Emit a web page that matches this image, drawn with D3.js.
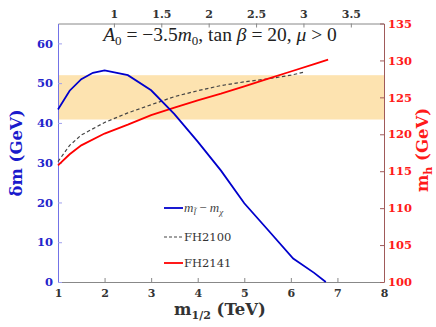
<!DOCTYPE html>
<html>
<head>
<meta charset="utf-8">
<script src="https://cdn.jsdelivr.net/npm/d3@7"></script>
<style>
  body { margin: 0; background: #fff; }
  svg { display: block; }
</style>
</head>
<body>
<div id="chart"></div>
<script>
const width = 436;
const height = 327;
const margin = { top: 23.5, bottom: 45, left: 58, right: 52 };

// datos
const xTicks = [1, 2, 3, 4, 5, 6, 7, 8];
const leftTicks = [0, 10, 20, 30, 40, 50, 60];
const rightTicks = [100, 105, 110, 115, 120, 125, 130, 135];
const topTicks = [1, 1.5, 2, 2.5, 3, 3.5];

const dmX = [1, 1.25, 1.5, 1.75, 2, 2.5, 3, 3.5, 4, 4.5, 5, 5.5, 6.05, 6.5, 6.75];
const dmY = [43.4, 48.1, 51.0, 52.6, 53.2, 52.0, 48.2, 42.2, 35.3, 28.0, 19.8, 13.2, 5.9, 2.3, 0];

const fh2100X = [1, 1.25, 1.5, 2, 2.5, 3, 3.5, 4, 4.5, 5, 5.5, 6, 6.27];
const fh2100Y = [116.3, 118.5, 119.9, 121.6, 122.9, 124.0, 125.1, 125.9, 126.6, 127.1, 127.5, 128.0, 128.4];

const fh2141X = [1, 1.25, 1.5, 2, 2.5, 3, 3.5, 4, 4.5, 5, 5.5, 6, 6.5, 6.8];
const fh2141Y = [115.8, 117.3, 118.5, 120.1, 121.3, 122.6, 123.6, 124.6, 125.5, 126.5, 127.5, 128.5, 129.5, 130.1];

const bandLow = 122;
const bandHigh = 128;

const svg = d3.select("div#chart").append("svg")
  .attr("width", width).attr("height", height);

const x = d3.scaleLinear().domain([1, 8]).range([margin.left, width - margin.right]);
const xTop = d3.scaleLinear().domain([0.41, 3.85]).range([margin.left, width - margin.right]);
const yL = d3.scaleLinear().domain([0, 65]).range([height - margin.bottom, margin.top]);
const yR = d3.scaleLinear().domain([100, 135]).range([height - margin.bottom, margin.top]);

// banda
svg.append("rect")
  .attr("x", margin.left)
  .attr("y", yR(bandHigh))
  .attr("width", x(8) - x(1))
  .attr("height", yR(bandLow) - yR(bandHigh))
  .attr("fill", "#fde3b0");

// ejes
const tickFont = "'DejaVu Serif', serif";

const xAxis = svg.append("g")
  .attr("transform", `translate(0, ${height - margin.bottom})`)
  .call(d3.axisBottom(x).tickValues(xTicks).tickSizeInner(-4).tickSizeOuter(0).tickPadding(7).tickFormat(d3.format("d")));
xAxis.select(".domain").attr("stroke", "#888");
xAxis.selectAll(".tick line").attr("stroke", "#888");
xAxis.selectAll("text").attr("fill", "#333").style("font", `bold 11px ${tickFont}`);

const topAxis = svg.append("g")
  .attr("transform", `translate(0, ${margin.top})`)
  .call(d3.axisTop(xTop).tickValues(topTicks).tickSizeInner(-4).tickSizeOuter(0).tickPadding(6).tickFormat(d3.format("")));
topAxis.select(".domain").attr("stroke", "#888");
topAxis.selectAll(".tick line").attr("stroke", "#888");
topAxis.selectAll("text").attr("fill", "#333").style("font", `bold 11px ${tickFont}`);

const leftAxis = svg.append("g")
  .attr("transform", `translate(${margin.left}, 0)`)
  .call(d3.axisLeft(yL).tickValues(leftTicks).tickSizeInner(-4).tickSizeOuter(0).tickPadding(5));
leftAxis.select(".domain").attr("stroke", "#7373e6");
leftAxis.selectAll(".tick line").attr("stroke", "#a0a0ee");
leftAxis.selectAll("text").attr("fill", "#2424cc").style("font", `bold 11.5px ${tickFont}`);

const rightAxis = svg.append("g")
  .attr("transform", `translate(${width - margin.right}, 0)`)
  .call(d3.axisRight(yR).tickValues(rightTicks).tickSizeInner(-4).tickSizeOuter(0).tickPadding(4));
rightAxis.select(".domain").attr("stroke", "#a05a5a");
rightAxis.selectAll(".tick line").attr("stroke", "#a05a5a");
rightAxis.selectAll("text").attr("fill", "#ff1a1a").style("font", `bold 11.5px ${tickFont}`);

// curvas
const lineL = d3.line().x((d) => x(d[0])).y((d) => yL(d[1]));
const lineR = d3.line().x((d) => x(d[0])).y((d) => yR(d[1]));

svg.append("path")
  .datum(fh2100X.map((v, i) => [v, fh2100Y[i]]))
  .attr("d", lineR).attr("fill", "none")
  .attr("stroke", "#444").attr("stroke-width", 1.2).attr("stroke-dasharray", "3.5,2.5");

svg.append("path")
  .datum(fh2141X.map((v, i) => [v, fh2141Y[i]]))
  .attr("d", lineR).attr("fill", "none")
  .attr("stroke", "#ff0000").attr("stroke-width", 1.8);

svg.append("path")
  .datum(dmX.map((v, i) => [v, dmY[i]]))
  .attr("d", lineL).attr("fill", "none")
  .attr("stroke", "#0000cc").attr("stroke-width", 1.8);

// titulo
const serif = "'Liberation Serif', 'DejaVu Serif', serif";
const title = svg.append("text")
  .attr("x", 220).attr("y", 41)
  .attr("text-anchor", "middle")
  .style("font-family", serif).style("font-size", "19.5px").attr("fill", "#222");
title.append("tspan").style("font-style", "italic").text("A");
title.append("tspan").attr("dy", 4).style("font-size", "13px").text("0");
title.append("tspan").attr("dy", -4).text(" = −3.5");
title.append("tspan").style("font-style", "italic").text("m");
title.append("tspan").attr("dy", 4).style("font-size", "13px").text("0");
title.append("tspan").attr("dy", -4).text(", tan ");
title.append("tspan").style("font-style", "italic").text("β");
title.append("tspan").text(" = 20, ");
title.append("tspan").style("font-style", "italic").text("μ");
title.append("tspan").text(" > 0");

// etiquetas de ejes
const xl = svg.append("text")
  .attr("x", 220).attr("y", 315)
  .attr("text-anchor", "middle")
  .style("font-family", tickFont).style("font-weight", "bold").style("font-size", "16.5px")
  .attr("fill", "#333");
xl.append("tspan").text("m");
xl.append("tspan").attr("dy", 4).style("font-size", "11px").text("1/2");
xl.append("tspan").attr("dy", -4).text(" (TeV)");

const yl = svg.append("text")
  .attr("transform", "translate(22, 153) rotate(-90)")
  .attr("text-anchor", "middle")
  .style("font-family", tickFont).style("font-weight", "bold").style("font-size", "16.5px")
  .attr("fill", "#1a1acc");
yl.append("tspan").text("δm (GeV)");

const yr = svg.append("text")
  .attr("transform", "translate(428, 150) rotate(-90)")
  .attr("text-anchor", "middle")
  .style("font-family", tickFont).style("font-weight", "bold").style("font-size", "16.5px")
  .attr("fill", "#ff1a1a");
yr.append("tspan").text("m");
yr.append("tspan").attr("dy", 4).style("font-size", "11px").text("h");
yr.append("tspan").attr("dy", -4).text(" (GeV)");

// leyenda
const legend = svg.append("g").attr("transform", "translate(164, 0)");
const legendItems = [
  { y: 208, color: "#0000cc", dash: null, w: 1.8 },
  { y: 237, color: "#444", dash: "3,2", w: 1.2 },
  { y: 263, color: "#ff0000", dash: null, w: 1.8 },
];
legendItems.forEach((d) => {
  legend.append("line")
    .attr("x1", 0).attr("x2", 19).attr("y1", d.y).attr("y2", d.y)
    .attr("stroke", d.color).attr("stroke-width", d.w)
    .attr("stroke-dasharray", d.dash);
});
const l1 = legend.append("text").attr("x", 20).attr("y", 212)
  .style("font-family", serif).style("font-size", "13px").attr("fill", "#444");
l1.append("tspan").style("font-style", "italic").text("m");
l1.append("tspan").attr("dy", 3).style("font-size", "9px").style("font-style", "italic").text("l̃");
l1.append("tspan").attr("dy", -3).text(" − ");
l1.append("tspan").style("font-style", "italic").text("m");
l1.append("tspan").attr("dy", 3).style("font-size", "9px").style("font-style", "italic").text("χ");

legend.append("text").attr("x", 20).attr("y", 241)
  .style("font-family", "'DejaVu Serif', serif").style("font-size", "11.5px").attr("fill", "#333")
  .text("FH2100");
legend.append("text").attr("x", 20).attr("y", 267)
  .style("font-family", "'DejaVu Serif', serif").style("font-size", "11.5px").attr("fill", "#333")
  .text("FH2141");
</script>
</body>
</html>
